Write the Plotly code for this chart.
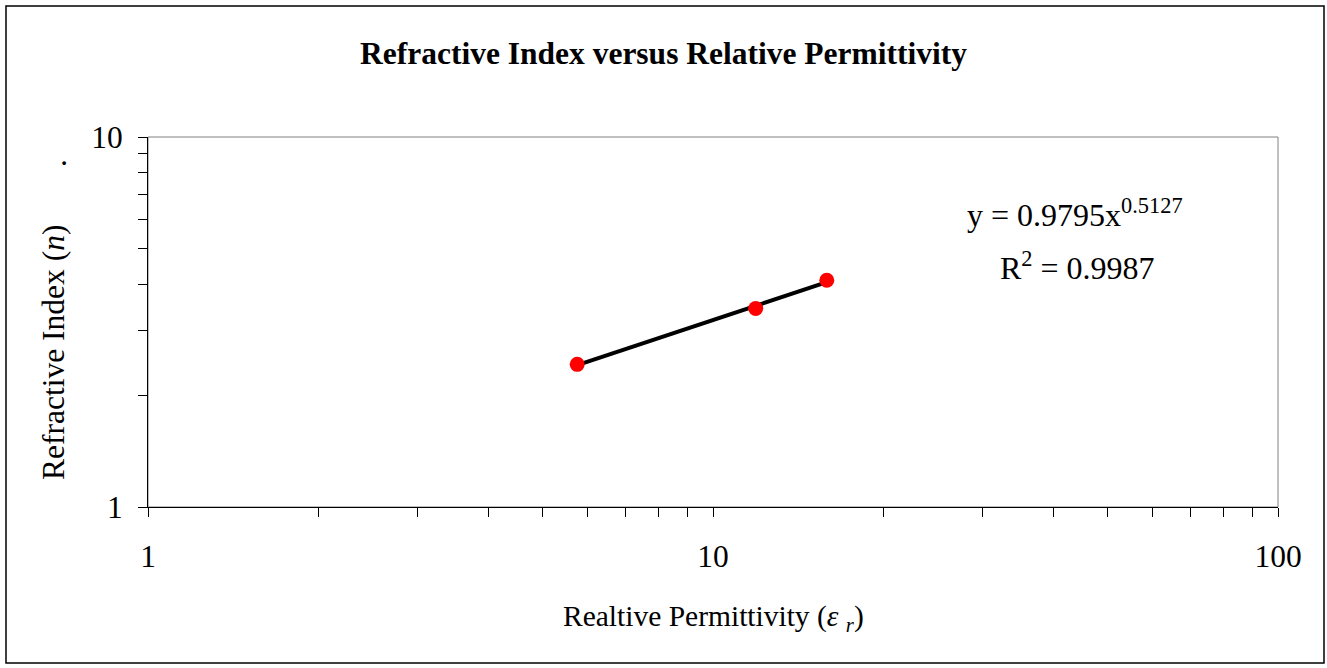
import numpy as np
import plotly.graph_objects as go

# Data
permittivity = [5.75, 11.9, 15.9]
refractive_index = [2.43, 3.44, 4.1]

title_text = "<b>Refractive Index versus Relative Permittivity</b>"
x_title = "Realtive Permittivity (<i>ε</i> <sub><i>r</i></sub>)"
y_title = "Refractive Index (<i>n</i>)"
eq_line1 = "y = 0.9795x<sup>0.5127</sup>"
eq_line2 = "R<sup>2</sup> = 0.9987"

x_major = [1, 10, 100]
y_major = [1, 10]
x_minor = [2, 3, 4, 5, 6, 7, 8, 9, 20, 30, 40, 50, 60, 70, 80, 90]
y_minor = [2, 3, 4, 5, 6, 7, 8, 9]

# Power-law trendline fitted from the data (least squares in log space)
lx = np.log10(permittivity)
ly = np.log10(refractive_index)
slope, intercept = np.polyfit(lx, ly, 1)
trend_x = np.array([min(permittivity), max(permittivity)])
trend_y = 10 ** intercept * trend_x ** slope

FONT = "Liberation Serif, Times New Roman, serif"

fig = go.Figure()
fig.add_trace(go.Scatter(
    x=trend_x, y=trend_y, mode="lines",
    line=dict(color="black", width=4), showlegend=False, hoverinfo="skip"))
fig.add_trace(go.Scatter(
    x=permittivity, y=refractive_index, mode="markers",
    marker=dict(color="#ff0000", size=15, line=dict(width=0)), showlegend=False))

L, R, T, B = 148, 49, 137, 161
W, H = 1327, 668
pw, ph = W - L - R, H - T - B


def px_to_paper_x(px):
    return (px - L) / pw


def px_to_paper_y(py):
    return (H - B - py) / ph


fig.update_layout(
    width=W, height=H,
    margin=dict(l=L, r=R, t=T, b=B),
    paper_bgcolor="white", plot_bgcolor="white",
    font=dict(family=FONT, color="black", size=31),
    title=dict(text=title_text, x=0.5, xref="container", xanchor="center",
               y=1 - 53 / H, yref="container", yanchor="middle",
               font=dict(family=FONT, size=31.5, color="black")),
    xaxis=dict(type="log", range=[0, 2], tickvals=x_major, ticktext=[str(v) for v in x_major],
               ticks="outside", ticklen=9, tickcolor="black", tickwidth=1,
               showline=True, linecolor="black", linewidth=1, showgrid=False, zeroline=False,
               minor=dict(tickvals=x_minor, ticks="outside", ticklen=9, tickcolor="black", showgrid=False),
               tickfont=dict(size=31.5), ticklabelstandoff=12),
    yaxis=dict(type="log", range=[0, 1], tickvals=y_major, ticktext=[str(v) for v in y_major],
               ticks="outside", ticklen=9, tickcolor="black", tickwidth=1,
               showline=True, linecolor="black", linewidth=1, showgrid=False, zeroline=False,
               minor=dict(tickvals=y_minor, ticks="outside", ticklen=9, tickcolor="black", showgrid=False),
               tickfont=dict(size=31.5), ticklabelstandoff=9),
    shapes=[
        dict(type="rect", xref="paper", yref="paper", x0=0, x1=1, y0=0, y1=1,
             line=dict(color="#808080", width=1), layer="below"),
        dict(type="rect", xref="paper", yref="paper",
             x0=px_to_paper_x(6), x1=px_to_paper_x(1324),
             y0=px_to_paper_y(663), y1=px_to_paper_y(6),
             line=dict(color="black", width=1.5)),
    ],
    annotations=[
        dict(text=x_title, xref="paper", yref="paper", x=px_to_paper_x(713), y=px_to_paper_y(618),
             xanchor="center", yanchor="middle", showarrow=False, font=dict(size=29.5)),
        dict(text=y_title, xref="paper", yref="paper", x=px_to_paper_x(53), y=px_to_paper_y(353),
             xanchor="center", yanchor="middle", showarrow=False, textangle=-90, font=dict(size=31.5)),
        dict(text=".", xref="paper", yref="paper", x=px_to_paper_x(56), y=px_to_paper_y(163),
             xanchor="center", yanchor="middle", showarrow=False, textangle=-90, font=dict(size=31.5)),
        dict(text=eq_line1, xref="paper", yref="paper", x=px_to_paper_x(1075), y=px_to_paper_y(213),
             xanchor="center", yanchor="middle", showarrow=False, font=dict(size=32)),
        dict(text=eq_line2, xref="paper", yref="paper", x=px_to_paper_x(1077), y=px_to_paper_y(266),
             xanchor="center", yanchor="middle", showarrow=False, font=dict(size=32)),
    ],
)

fig.write_html("out.html")
